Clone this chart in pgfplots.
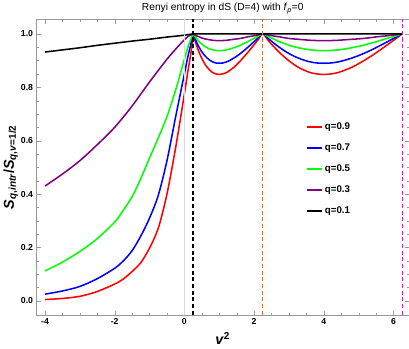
\documentclass[border=0pt]{standalone}
\usepackage{fontspec}
\setmainfont{Liberation Sans}
\usepackage{pgfplots}
\pgfplotsset{compat=1.18}
\usepackage{pgfplotstable}

\definecolor{mpurple}{rgb}{0.5,0,0.5}
\definecolor{morange}{rgb}{1,0.4,0}
\definecolor{mmagenta}{rgb}{1,0,1}
\definecolor{framegray}{gray}{0.6}

% each series: left branch (v^2<1/4), then the two dips between nu=1/2,3/2,5/2
\pgfplotstableread{
x y
-4 0.005
-3.5 0.009
-3 0.017
-2.5 0.035
-2 0.063
-1.75 0.082
-1.5 0.110
-1.25 0.143
-1 0.198
-0.75 0.272
-0.5 0.40
-0.25 0.575
0 0.775
0.1 0.86
0.2 0.94
0.25 1
0.3025 .976
0.36 .953
0.4225 .931
0.49 .911
0.5625 .893
0.64 .877
0.7225 .865
0.81 .855
0.9025 .850
1.0 .848
1.1025 .850
1.21 .855
1.3225 .865
1.44 .877
1.5625 .893
1.69 .911
1.8225 .931
1.96 .953
2.1025 .976
2.25 1
2.4025 .976
2.56 .953
2.7225 .931
2.89 .911
3.0625 .893
3.24 .877
3.4225 .865
3.61 .855
3.8025 .850
4.0 .848
4.2025 .850
4.41 .855
4.6225 .865
4.84 .877
5.0625 .893
5.29 .911
5.5225 .931
5.76 .953
6.0025 .976
6.25 1
}\qnine

\pgfplotstableread{
x y
-4 0.025
-3.5 0.037
-3 0.054
-2.5 0.083
-2 0.122
-1.75 0.150
-1.5 0.188
-1.25 0.243
-1 0.31
-0.75 0.395
-0.5 0.525
-0.25 0.69
0 0.85
0.1 0.915
0.2 0.97
0.25 1
0.3025 .983
0.36 .966
0.4225 .950
0.49 .935
0.5625 .922
0.64 .911
0.7225 .902
0.81 .895
0.9025 .891
1.0 .890
1.1025 .891
1.21 .895
1.3225 .902
1.44 .911
1.5625 .922
1.69 .935
1.8225 .950
1.96 .966
2.1025 .983
2.25 1
2.4025 .983
2.56 .966
2.7225 .950
2.89 .935
3.0625 .922
3.24 .911
3.4225 .902
3.61 .895
3.8025 .891
4.0 .890
4.2025 .891
4.41 .895
4.6225 .902
4.84 .911
5.0625 .922
5.29 .935
5.5225 .950
5.76 .966
6.0025 .983
6.25 1
}\qseven

\pgfplotstableread{
x y
-4 0.112
-3.5 0.145
-3 0.185
-2.5 0.233
-2 0.295
-1.75 0.34
-1.5 0.39
-1.25 0.458
-1 0.535
-0.75 0.61
-0.5 0.69
-0.25 0.79
0 0.905
0.1 0.95
0.2 0.985
0.25 1
0.3025 .990
0.36 .981
0.4225 .971
0.49 .963
0.5625 .955
0.64 .949
0.7225 .944
0.81 .940
0.9025 .938
1.0 .937
1.1025 .938
1.21 .940
1.3225 .944
1.44 .949
1.5625 .955
1.69 .963
1.8225 .971
1.96 .981
2.1025 .990
2.25 1
2.4025 .990
2.56 .981
2.7225 .971
2.89 .963
3.0625 .955
3.24 .949
3.4225 .944
3.61 .940
3.8025 .938
4.0 .937
4.2025 .938
4.41 .940
4.6225 .944
4.84 .949
5.0625 .955
5.29 .963
5.5225 .971
5.76 .981
6.0025 .990
6.25 1
}\qfive

\pgfplotstableread{
x y
-4 0.43
-3.5 0.475
-3 0.525
-2.5 0.585
-2 0.65
-1.5 0.73
-1 0.82
-0.5 0.905
-0.25 0.943
0 0.978
0.1 0.99
0.25 1
0.3025 .996
0.36 .992
0.4225 .989
0.49 .985
0.5625 .982
0.64 .980
0.7225 .978
0.81 .976
0.9025 .975
1.0 .975
1.1025 .975
1.21 .976
1.3225 .978
1.44 .980
1.5625 .982
1.69 .985
1.8225 .989
1.96 .992
2.1025 .996
2.25 1
2.4025 .996
2.56 .992
2.7225 .989
2.89 .985
3.0625 .982
3.24 .980
3.4225 .978
3.61 .976
3.8025 .975
4.0 .975
4.2025 .975
4.41 .976
4.6225 .978
4.84 .980
5.0625 .982
5.29 .985
5.5225 .989
5.76 .992
6.0025 .996
6.25 1
}\qthree

\pgfplotstableread{
x y
-4 0.932
-3.5 0.940
-3 0.948
-2.5 0.957
-2 0.965
-1.5 0.973
-1 0.980
-0.5 0.988
0 0.995
0.25 1
1 1
2.25 1
4 1
6.25 1
}\qone

\begin{document}
\begin{tikzpicture}
\begin{axis}[
  scale only axis,
  width=363bp, height=288bp,
  xmin=-4.24, xmax=6.44,
  ymin=-0.052, ymax=1.054,
  axis line style={framegray},
  tick style={framegray},
  tick align=inside,
  xtick={-4,-2,0,2,4,6},
  minor x tick num=3,
  ytick={0,0.2,0.4,0.6,0.8,1.0},
  minor y tick num=3,
  major tick length=4bp, minor tick length=2bp,
  yticklabel style={/pgf/number format/.cd, fixed, fixed zerofill, precision=1},
  /pgf/number format/assume math mode=true,
  ticklabel style={font=\bfseries\fontsize{8.5}{10}\selectfont},
  title={Renyi entropy in dS (D=4) with \textit{f}\textsubscript{\textit{p}}=0},
  title style={font=\fontsize{10}{12}\selectfont, yshift=-4bp},
  xlabel={\textbf{\textit{v}\textsuperscript{2}}},
  xlabel style={font=\fontsize{14}{16}\selectfont, yshift=-1bp},
  ylabel={\textbf{\textit{S}\textsubscript{\textit{q},\textit{intr}}/\textit{S}\textsubscript{\textit{q},\textit{v}=1/2}}},
  ylabel style={font=\fontsize{14}{16}\selectfont, yshift=-4bp},
  legend style={draw=none, fill=none, at={(rel axis cs:0.715,0.665)}, anchor=north west,
    font=\bfseries\fontsize{9.5}{11}\selectfont, row sep=8.5bp},
  legend cell align=left,
  legend image code/.code={\draw[line width=1.5pt] (0bp,0bp) -- (15bp,0bp);},
]
\addplot[red, line width=1.5pt, smooth] table {\qnine};
\addlegendentry{q=0.9}
\addplot[blue, line width=1.5pt, smooth] table {\qseven};
\addlegendentry{q=0.7}
\addplot[green, line width=1.5pt, smooth] table {\qfive};
\addlegendentry{q=0.5}
\addplot[mpurple, line width=1.5pt, smooth] table {\qthree};
\addlegendentry{q=0.3}
\addplot[black, line width=1.5pt, smooth] table {\qone};
\addlegendentry{q=0.1}
\addplot[gray!30, line width=0.8pt, forget plot] coordinates {(0,-0.052) (0,1.054)};
\addplot[black, line width=1.3pt, dash pattern=on 4bp off 2.5bp, forget plot] coordinates {(0.25,-0.052) (0.25,1.054)};
\addplot[morange, line width=1.3pt, dash pattern=on 4bp off 2.5bp, forget plot] coordinates {(2.25,-0.052) (2.25,1.054)};
\addplot[mmagenta, line width=1.3pt, dash pattern=on 4bp off 2.5bp, forget plot] coordinates {(6.25,-0.052) (6.25,1.054)};
\end{axis}
\end{tikzpicture}
\end{document}
